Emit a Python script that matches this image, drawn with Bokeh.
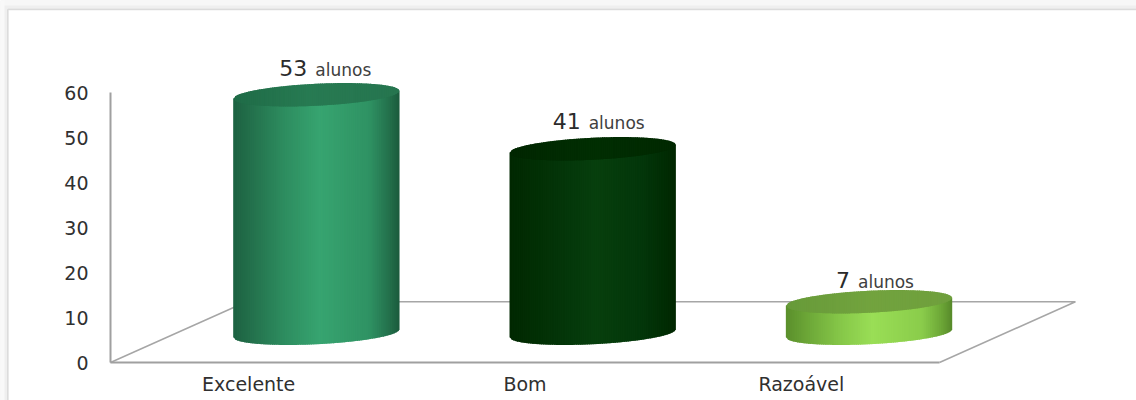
import math

from bokeh.core.properties import value
from bokeh.embed import file_html
from bokeh.models import BoxAnnotation, FixedTicker, Range1d
from bokeh.plotting import figure
from bokeh.resources import INLINE

# Survey results
categories = ["Excelente", "Bom", "Razoável"]
students = [53, 41, 7]
value_ticks = [0, 10, 20, 30, 40, 50, 60]
unit_label = "alunos"

# Shading of each cylinder: (position across the body, colour)
body_stops = [
    [(0.0, "#1c6241"), (0.10, "#236f4b"), (0.30, "#2d8c5f"), (0.52, "#37a470"),
     (0.82, "#2f9263"), (0.94, "#236f4b"), (1.0, "#1a5a3c")],
    [(0.0, "#012801"), (0.15, "#022f04"), (0.35, "#04370a"), (0.52, "#073f0d"),
     (0.80, "#03360a"), (0.94, "#012c03"), (1.0, "#012501")],
    [(0.0, "#5a8f2c"), (0.12, "#6ba536"), (0.32, "#85c648"), (0.52, "#9ade56"),
     (0.82, "#8acc4b"), (0.94, "#6ba536"), (1.0, "#56882a")],
]
cap_stops = [
    [(0.0, "#1f6b47"), (0.45, "#277a52"), (1.0, "#26754f")],
    [(0.0, "#012601"), (0.5, "#012e02"), (1.0, "#012801")],
    [(0.0, "#679a39"), (0.5, "#72a33e"), (1.0, "#6f9f3d")],
]

# Geometry, in data units: one category slot across, one student up
px_per_slot = 276.33
px_per_unit = 4.5
axis_left_px = 110
axis_bottom_px = 362
depth_x = 0.492
depth_y = 13.5
centre_shift = 0.245
radius = 0.301
base_level = 6.5
cap_half_height = 11 / px_per_unit
cap_tilt = 4 / px_per_unit
strips = 90

# Where the two parts of each value label sit, relative to the cylinder's top centre
count_gap_px = 8
unit_offset_px = [-1, -4, -11]
label_rise_px = [27, 28, 22]
unit_drop_px = 2

W, H = 1136, 400


def data_x(px):
    return (px - axis_left_px) / px_per_slot


def data_y(px):
    return (axis_bottom_px - px) / px_per_unit


p = figure(
    width=W, height=H, output_backend="svg", toolbar_location=None,
    min_border=0, min_border_left=0, min_border_right=0,
    min_border_top=0, min_border_bottom=0,
    x_range=Range1d(data_x(0), data_x(W)),
    y_range=Range1d(data_y(H), data_y(0)),
    background_fill_color="#efefef", border_fill_color="#efefef",
)
p.outline_line_color = None
p.grid.visible = False

# Soft grey surround and the white chart card with its thin border
p.add_layout(BoxAnnotation(left=data_x(0), right=data_x(W), top=data_y(0), bottom=data_y(5),
                           fill_color="#f7f7f7", fill_alpha=1, line_color=None, level="underlay"))
p.add_layout(BoxAnnotation(left=data_x(0), right=data_x(4), top=data_y(0), bottom=data_y(H),
                           fill_color="#f9f9f9", fill_alpha=1, line_color=None, level="underlay"))
p.add_layout(BoxAnnotation(left=data_x(7.5), right=data_x(W + 6), top=data_y(9), bottom=data_y(H + 6),
                           fill_color="white", fill_alpha=1,
                           line_color="#9c9c9c", line_width=1.5, level="underlay"))

# Floor of the 3D box
n_cat = len(categories)
p.line([0, depth_x, n_cat + depth_x, n_cat],
       [0, depth_y, depth_y, 0], line_color="#a6a6a6", line_width=1.5)


def blend(stops, t):
    for (t0, c0), (t1, c1) in zip(stops, stops[1:]):
        if t <= t1:
            f = (t - t0) / (t1 - t0)
            rgb = [
                round(int(c0[i:i + 2], 16) * (1 - f) + int(c1[i:i + 2], 16) * f)
                for i in (1, 3, 5)
            ]
            return "#%02x%02x%02x" % tuple(rgb)
    return stops[-1][1]


def half_chord(u):
    return cap_half_height * math.sqrt(max(0.0, 1 - u * u))


for i, count in enumerate(students):
    cx = i + 0.5 + centre_shift
    top_level = base_level + count
    body_x, body_y, body_c = [], [], []
    cap_x, cap_y, cap_c = [], [], []
    for k in range(strips):
        u0 = -1 + 2 * k / strips
        u1 = min(1.0, -1 + 2 * (k + 1.6) / strips)
        x0, x1 = cx + radius * u0, cx + radius * u1
        t = (k + 0.5) / strips
        # Straight sides from the cap's centre line down to the lower rim
        body_x.append([x0, x1, x1, x0])
        body_y.append([
            top_level + cap_tilt * u0, top_level + cap_tilt * u1,
            base_level + cap_tilt * u1 - half_chord(u1),
            base_level + cap_tilt * u0 - half_chord(u0),
        ])
        body_c.append(blend(body_stops[i], t))
        # The cap is a tilted ellipse sliced the same way
        cap_x.append([x0, x1, x1, x0])
        cap_y.append([
            top_level + cap_tilt * u0 + half_chord(u0),
            top_level + cap_tilt * u1 + half_chord(u1),
            top_level + cap_tilt * u1 - half_chord(u1),
            top_level + cap_tilt * u0 - half_chord(u0),
        ])
        cap_c.append(blend(cap_stops[i], t))
    p.patches(body_x, body_y, fill_color=body_c, line_color=None)
    p.patches(cap_x, cap_y, fill_color=cap_c, line_color=None)

    # Value label: large count followed by the smaller unit
    label_y = top_level + label_rise_px[i] / px_per_unit
    p.text([cx], [label_y], text=[unit_label],
           x_offset=unit_offset_px[i], y_offset=unit_drop_px,
           text_align="left", text_baseline="middle",
           text_font=value("DejaVu Sans"), text_font_size="17px", text_color="#404040")
    p.text([cx], [label_y], text=[str(count)],
           x_offset=unit_offset_px[i] - count_gap_px, text_align="right", text_baseline="middle",
           text_font=value("DejaVu Sans"), text_font_size="22px", text_color="#2b2b2b")

# Axes run along the front edge of the floor
xax = p.xaxis[0]
xax.fixed_location = 0
xax.bounds = (0, n_cat)
xax.ticker = FixedTicker(ticks=[k + 0.5 for k in range(n_cat)])
xax.major_label_overrides = {k + 0.5: c for k, c in enumerate(categories)}
xax.major_label_standoff = 4
xax.major_tick_line_color = None
xax.minor_tick_line_color = None
xax.axis_line_color = "#a0a0a0"
xax.axis_line_width = 2
xax.major_label_text_font = "DejaVu Sans"
xax.major_label_text_font_size = "19px"
xax.major_label_text_color = "#303030"

yax = p.yaxis[0]
yax.fixed_location = 0
yax.bounds = (0, value_ticks[-1])
yax.ticker = FixedTicker(ticks=value_ticks)
yax.major_label_standoff = 16
yax.major_tick_line_color = None
yax.minor_tick_line_color = None
yax.axis_line_color = "#a0a0a0"
yax.axis_line_width = 2
yax.major_label_text_font = "DejaVu Sans"
yax.major_label_text_font_size = "19px"
yax.major_label_text_color = "#303030"

open("out.html", "w").write(file_html(p, INLINE))
